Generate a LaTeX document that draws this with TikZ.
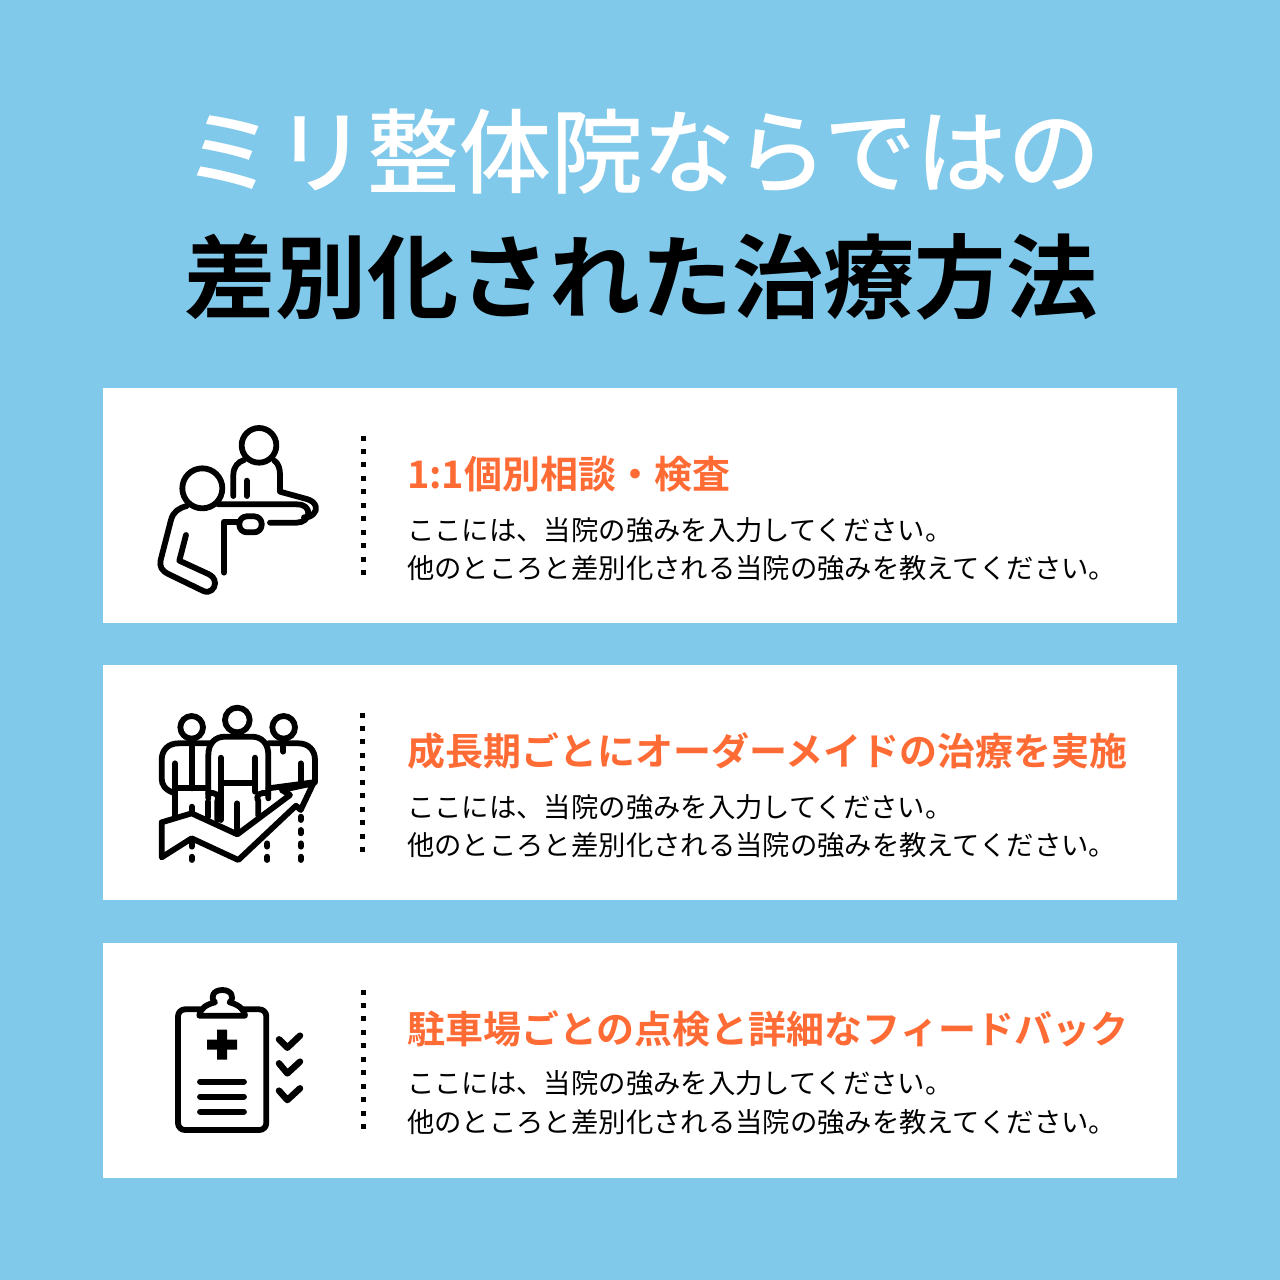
\documentclass[tikz,border=0pt]{standalone}
\usepackage{fontspec}
\setmainfont{Noto Sans CJK JP}[BoldFont={Noto Sans CJK JP Bold}]
\newfontfamily\jpb{Noto Sans CJK JP Bold}
\newfontfamily\jpm{Noto Sans CJK JP Medium}
\definecolor{bgblue}{HTML}{80C9EB}
\definecolor{heador}{HTML}{FF6B35}
\tikzset{
  card/.style={fill=white,draw=none},
  titlewhite/.style={anchor=base,inner sep=0pt,text=white,font=\jpm\fontsize{92}{92}\selectfont},
  titleblack/.style={anchor=base,inner sep=0pt,text=black,font=\jpb\fontsize{91.3}{91.3}\selectfont},
  headtext/.style={anchor=base west,inner sep=0pt,text=heador,font=\jpb\fontsize{38}{38}\selectfont},
  bodytext/.style={anchor=base west,inner sep=0pt,text=black,font=\fontsize{27.35}{27.35}\selectfont},
  ico/.style={x=0.33333pt,y=-0.33333pt,line width=5.8pt,line cap=round,line join=round,draw=black},
}
\newcommand{\dotcol}[2]{\foreach \k in {0,...,10} {\fill[black] ({#1-2.5},{#2+13.45*\k-2.5}) rectangle ++(5,5);}}
\begin{document}
\begin{tikzpicture}[x=1pt,y=-1pt]
\useasboundingbox (0,0) rectangle (1280,1280);
\fill[bgblue] (0,0) rectangle (1280,1280);
\node[titlewhite] (t1) at (642,186) {ミリ整体院ならではの};
\node[titleblack] (t2) at (641,311) {差別化された治療方法};
\fill[card] (103,388) rectangle (1177,623);
\fill[card] (103,665) rectangle (1177,900);
\fill[card] (103,943) rectangle (1177,1178);
\dotcol{363}{438}
\dotcol{362}{715}
\dotcol{363}{992}
\node[headtext] (h1) at (407,488) {1:1個別相談・検査};
\node[bodytext] (a1) at (407,540) {ここには、当院の強みを入力してください。};
\node[bodytext] (b1) at (407,578.7) {他のところと差別化される当院の強みを教えてください。};
\node[headtext] (h2) at (407,765) {成長期ごとにオーダーメイドの治療を実施};
\node[bodytext] (a2) at (407,817) {ここには、当院の強みを入力してください。};
\node[bodytext] (b2) at (407,855.7) {他のところと差別化される当院の強みを教えてください。};
\node[headtext] (h3) at (407,1043) {駐車場ごとの点検と詳細なフィードバック};
\node[bodytext] (a3) at (407,1093) {ここには、当院の強みを入力してください。};
\node[bodytext] (b3) at (407,1132) {他のところと差別化される当院の強みを教えてください。};
% icon 1
\begin{scope}[xshift=140pt,yshift=-410pt,ico]
\draw (357,106) circle (52);
\draw (187,235) circle (60);
\draw (280,258) -- (280,195) .. controls (280,170) and (295,155) .. (312,150);
\draw (403,152) .. controls (415,160) and (420,175) .. (420,195) -- (420,245) -- (500,267) .. controls (530,275) and (535,300) .. (520,312) .. controls (512,320) and (505,322) .. (492,322);
\draw (320,212) -- (320,258);
\draw (235,283) -- (470,283) .. controls (495,283) and (505,295) .. (505,310) .. controls (505,325) and (490,338) .. (470,338) -- (390,338);
\draw (252,488) -- (252,335) -- (298,335);
\draw[rounded corners=7.5pt] (298,319) rectangle (365,367);
\draw (140,288) .. controls (115,295) and (100,305) .. (93,330) -- (62,450) .. controls (58,470) and (65,482) .. (85,492) -- (190,543) .. controls (210,552) and (225,535) .. (225,520) .. controls (225,505) and (215,497) .. (205,492) -- (118,452) -- (138,375);
\end{scope}
% icon 2
\begin{scope}[xshift=140pt,yshift=-695pt,ico]
\draw (155,97) circle (34);
\draw (292,75) circle (37);
\draw (431,97) circle (34);
\draw (105,295) .. controls (75,285) and (65,270) .. (65,250) -- (65,195) .. controls (65,165) and (85,145) .. (115,145) -- (215,145);
\draw (205,365) -- (205,320);
\draw (105,205) -- (105,365);
\draw (155,145) -- (155,280);
\draw (105,280) -- (205,280);
\draw (155,335) -- (155,355);
\draw (205,310) -- (205,180) .. controls (205,145) and (225,125) .. (255,125) -- (335,125) .. controls (365,125) and (385,145) .. (385,180) -- (385,310);
\draw (242,188) -- (242,375);
\draw (345,188) -- (345,290) ;
\draw (250,265) -- (340,265);
\draw (292,325) -- (292,415);
\draw (205,295) .. controls (225,290) and (240,300) .. (232,318) -- (232,375);
\draw (385,295) .. controls (360,290) and (345,300) .. (355,318) -- (355,362);
\draw (385,145) -- (475,145) .. controls (505,145) and (525,165) .. (525,195) -- (525,262);
\draw (430,145) -- (430,170);
\draw (482,205) -- (482,262);
\draw (385,280) -- (520,262);
\draw[fill=white] (65,382) -- (155,355) -- (292,418) -- (450,300) -- (425,285) -- (520,265) -- (482,345) -- (468,332) -- (295,495) -- (155,430) -- (65,487) -- cycle;
\foreach \x/\y in {155/450,155/490,382/450,382/490,482/370,482/410,482/450,482/490} \draw (\x,\y-5) -- (\x,\y+5);
\end{scope}
% icon 3
\begin{scope}[xshift=150pt,yshift=-975pt,ico]
\draw[rounded corners=7pt] (84,103) rectangle (349,465);
\draw[fill=white] (148,122) .. controls (150,100) and (170,88) .. (195,82) .. controls (178,65) and (192,45) .. (217,45) .. controls (242,45) and (256,65) .. (239,82) .. controls (262,88) and (282,100) .. (285,122) -- cycle;
\fill[black] (201,164) rectangle (231,194) (171,194) rectangle (261,224) (201,224) rectangle (231,254);
\draw (150,320) -- (282,320);
\draw (150,365) -- (282,365);
\draw (150,410) -- (282,410);
\draw[line width=6.5pt] (387,193) -- (412,218) -- (450,182);
\draw[line width=6.5pt] (387,265) -- (412,295) -- (450,260);
\draw[line width=6.5pt] (387,347) -- (412,375) -- (450,340);
\end{scope}
\end{tikzpicture}
\end{document}
